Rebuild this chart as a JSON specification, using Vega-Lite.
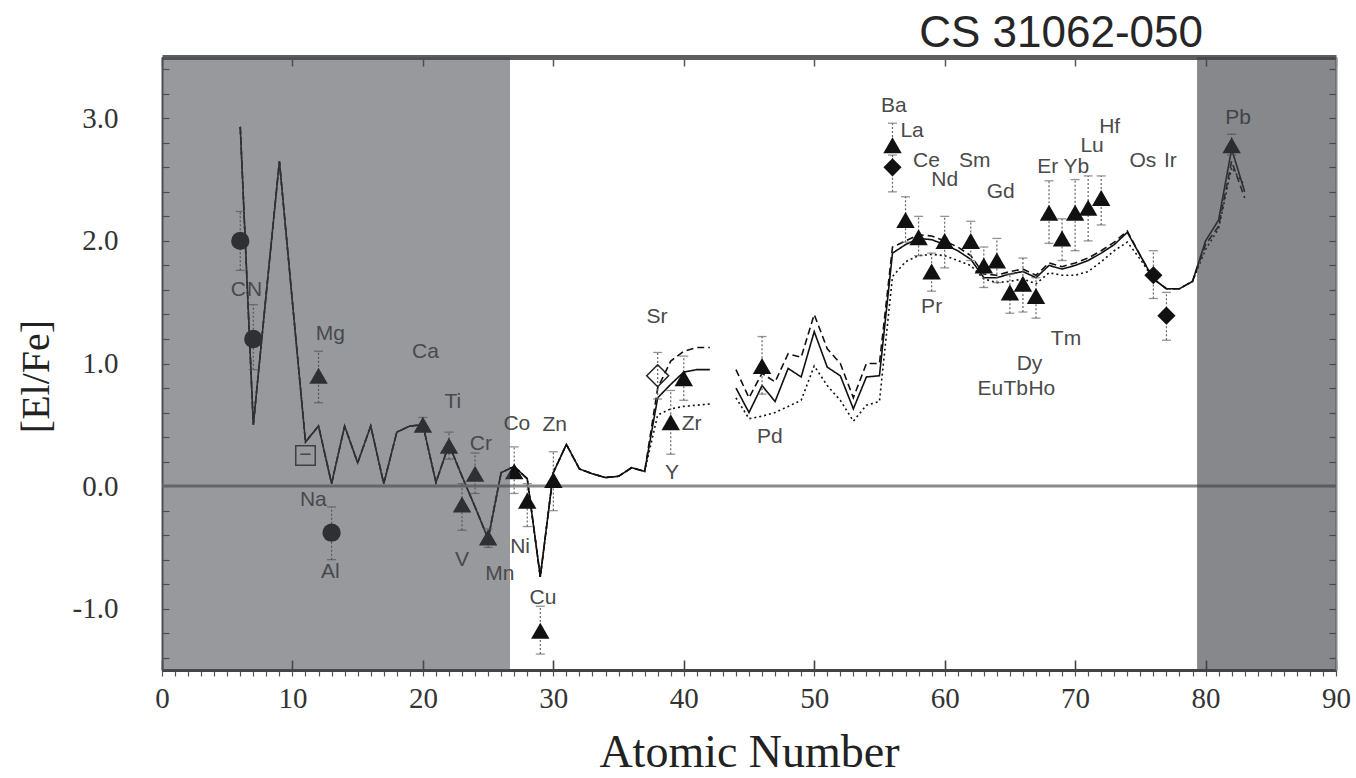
{
  "$schema": "https://vega.github.io/schema/vega-lite/v6.json",
  "width": 1174,
  "height": 613,
  "autosize": {"type": "none"},
  "padding": {"left": 162, "top": 57, "right": 20, "bottom": 108},
  "background": "white",
  "config": {"view": {"stroke": null}},
  "title": {"text": "CS 31062-050", "anchor": "end", "frame": "group", "dx": -133, "dy": 44, "offset": 8, "fontSize": 44, "font": "Liberation Sans", "fontWeight": "normal", "color": "#262626", "baseline": "alphabetic"},
  "datasets": {
    "pts": [
      {"el": "C", "Z": 6, "v": 2.0, "lo": 1.76, "hi": 2.24, "sym": "circle"},
      {"el": "N", "Z": 7, "v": 1.2, "lo": 0.95, "hi": 1.48, "sym": "circle"},
      {"el": "Na", "Z": 11, "v": 0.25, "lo": null, "hi": null, "sym": "square"},
      {"el": "Mg", "Z": 12, "v": 0.9, "lo": 0.68, "hi": 1.1, "sym": "triangle"},
      {"el": "Al", "Z": 13, "v": -0.38, "lo": -0.6, "hi": -0.17, "sym": "circle"},
      {"el": "Ca", "Z": 20, "v": 0.5, "lo": 0.45, "hi": 0.56, "sym": "triangle"},
      {"el": "Ti", "Z": 22, "v": 0.33, "lo": 0.22, "hi": 0.44, "sym": "triangle"},
      {"el": "V", "Z": 23, "v": -0.15, "lo": -0.36, "hi": 0.02, "sym": "triangle"},
      {"el": "Cr", "Z": 24, "v": 0.1, "lo": -0.06, "hi": 0.27, "sym": "triangle"},
      {"el": "Mn", "Z": 25, "v": -0.42, "lo": -0.5, "hi": -0.35, "sym": "triangle"},
      {"el": "Co", "Z": 27, "v": 0.12, "lo": -0.06, "hi": 0.32, "sym": "triangle"},
      {"el": "Ni", "Z": 28, "v": -0.12, "lo": -0.33, "hi": 0.02, "sym": "triangle"},
      {"el": "Cu", "Z": 29, "v": -1.18, "lo": -1.37, "hi": -0.98, "sym": "triangle"},
      {"el": "Zn", "Z": 30, "v": 0.05, "lo": -0.2, "hi": 0.28, "sym": "triangle"},
      {"el": "Sr", "Z": 38, "v": 0.9, "lo": 0.71, "hi": 1.09, "sym": "odiamond"},
      {"el": "Y", "Z": 39, "v": 0.52, "lo": 0.26, "hi": 0.78, "sym": "triangle"},
      {"el": "Zr", "Z": 40, "v": 0.88, "lo": 0.7, "hi": 1.06, "sym": "triangle"},
      {"el": "Pd", "Z": 46, "v": 0.98, "lo": 0.75, "hi": 1.22, "sym": "triangle"},
      {"el": "Ba", "Z": 56, "v": 2.78, "lo": 2.62, "hi": 2.96, "sym": "triangle"},
      {"el": "Ba", "Z": 56, "v": 2.6, "lo": 2.4, "hi": 2.7, "sym": "diamond"},
      {"el": "La", "Z": 57, "v": 2.17, "lo": 1.99, "hi": 2.36, "sym": "triangle"},
      {"el": "Ce", "Z": 58, "v": 2.03, "lo": 1.88, "hi": 2.2, "sym": "triangle"},
      {"el": "Pr", "Z": 59, "v": 1.75, "lo": 1.59, "hi": 1.9, "sym": "triangle"},
      {"el": "Nd", "Z": 60, "v": 2.0, "lo": 1.78, "hi": 2.2, "sym": "triangle"},
      {"el": "Sm", "Z": 62, "v": 2.0, "lo": 1.84, "hi": 2.16, "sym": "triangle"},
      {"el": "Eu", "Z": 63, "v": 1.8, "lo": 1.62, "hi": 1.95, "sym": "triangle"},
      {"el": "Gd", "Z": 64, "v": 1.84, "lo": 1.66, "hi": 2.02, "sym": "triangle"},
      {"el": "Tb", "Z": 65, "v": 1.58, "lo": 1.41, "hi": 1.73, "sym": "triangle"},
      {"el": "Dy", "Z": 66, "v": 1.65, "lo": 1.42, "hi": 1.86, "sym": "triangle"},
      {"el": "Ho", "Z": 67, "v": 1.55, "lo": 1.37, "hi": 1.7, "sym": "triangle"},
      {"el": "Er", "Z": 68, "v": 2.23, "lo": 1.98, "hi": 2.49, "sym": "triangle"},
      {"el": "Tm", "Z": 69, "v": 2.02, "lo": 1.84, "hi": 2.18, "sym": "triangle"},
      {"el": "Yb", "Z": 70, "v": 2.23, "lo": 1.92, "hi": 2.5, "sym": "triangle"},
      {"el": "Lu", "Z": 71, "v": 2.27, "lo": 2.0, "hi": 2.53, "sym": "triangle"},
      {"el": "Hf", "Z": 72, "v": 2.35, "lo": 2.13, "hi": 2.53, "sym": "triangle"},
      {"el": "Os", "Z": 76, "v": 1.72, "lo": 1.53, "hi": 1.92, "sym": "diamond"},
      {"el": "Ir", "Z": 77, "v": 1.39, "lo": 1.19, "hi": 1.58, "sym": "diamond"},
      {"el": "Pb", "Z": 82, "v": 2.78, "lo": 2.7, "hi": 2.87, "sym": "triangle"}
    ],
    "lbl": [
      {"t": "C", "Z": 5.85, "v": 1.6}, {"t": "N", "Z": 7.1, "v": 1.6},
      {"t": "Mg", "Z": 12.9, "v": 1.24}, {"t": "Ca", "Z": 20.2, "v": 1.09},
      {"t": "Ti", "Z": 22.3, "v": 0.69}, {"t": "Cr", "Z": 24.45, "v": 0.34},
      {"t": "Co", "Z": 27.2, "v": 0.51}, {"t": "Zn", "Z": 30.1, "v": 0.5},
      {"t": "Na", "Z": 11.6, "v": -0.11}, {"t": "Al", "Z": 12.9, "v": -0.7},
      {"t": "V", "Z": 23.0, "v": -0.6}, {"t": "Mn", "Z": 25.9, "v": -0.72},
      {"t": "Ni", "Z": 27.45, "v": -0.5}, {"t": "Cu", "Z": 29.2, "v": -0.91},
      {"t": "Sr", "Z": 37.95, "v": 1.38}, {"t": "Zr", "Z": 40.6, "v": 0.51},
      {"t": "Y", "Z": 39.1, "v": 0.11}, {"t": "Pd", "Z": 46.6, "v": 0.4},
      {"t": "Ba", "Z": 56.1, "v": 3.1}, {"t": "La", "Z": 57.5, "v": 2.9},
      {"t": "Ce", "Z": 58.6, "v": 2.65}, {"t": "Nd", "Z": 60.0, "v": 2.5},
      {"t": "Sm", "Z": 62.3, "v": 2.65}, {"t": "Gd", "Z": 64.3, "v": 2.4},
      {"t": "Er", "Z": 67.9, "v": 2.6}, {"t": "Yb", "Z": 70.1, "v": 2.6},
      {"t": "Lu", "Z": 71.3, "v": 2.77}, {"t": "Hf", "Z": 72.65, "v": 2.93},
      {"t": "Os", "Z": 75.2, "v": 2.65}, {"t": "Ir", "Z": 77.3, "v": 2.65},
      {"t": "Pr", "Z": 59.0, "v": 1.46}, {"t": "Tm", "Z": 69.3, "v": 1.2},
      {"t": "Dy", "Z": 66.5, "v": 1.0}, {"t": "Eu", "Z": 63.5, "v": 0.79},
      {"t": "Tb", "Z": 65.45, "v": 0.79}, {"t": "Ho", "Z": 67.45, "v": 0.79},
      {"t": "Pb", "Z": 82.5, "v": 3.0}, {"t": "\u2212", "Z": 11, "v": 0.25}
    ],
    "model": [
      {"Z": 6, "seg": "a", "solid": 2.93, "dashed": 2.93, "dotted": 2.93},
      {"Z": 7, "seg": "a", "solid": 0.5, "dashed": 0.5, "dotted": 0.5},
      {"Z": 8, "seg": "a", "solid": 1.58, "dashed": 1.58, "dotted": 1.58},
      {"Z": 9, "seg": "a", "solid": 2.65, "dashed": 2.65, "dotted": 2.65},
      {"Z": 10, "seg": "a", "solid": 1.5, "dashed": 1.5, "dotted": 1.5},
      {"Z": 11, "seg": "a", "solid": 0.36, "dashed": 0.36, "dotted": 0.36},
      {"Z": 12, "seg": "a", "solid": 0.49, "dashed": 0.49, "dotted": 0.49},
      {"Z": 13, "seg": "a", "solid": 0.02, "dashed": 0.02, "dotted": 0.02},
      {"Z": 14, "seg": "a", "solid": 0.49, "dashed": 0.49, "dotted": 0.49},
      {"Z": 15, "seg": "a", "solid": 0.19, "dashed": 0.19, "dotted": 0.19},
      {"Z": 16, "seg": "a", "solid": 0.49, "dashed": 0.49, "dotted": 0.49},
      {"Z": 17, "seg": "a", "solid": 0.02, "dashed": 0.02, "dotted": 0.02},
      {"Z": 18, "seg": "a", "solid": 0.44, "dashed": 0.44, "dotted": 0.44},
      {"Z": 19, "seg": "a", "solid": 0.49, "dashed": 0.49, "dotted": 0.49},
      {"Z": 20, "seg": "a", "solid": 0.5, "dashed": 0.5, "dotted": 0.5},
      {"Z": 21, "seg": "a", "solid": 0.03, "dashed": 0.03, "dotted": 0.03},
      {"Z": 22, "seg": "a", "solid": 0.34, "dashed": 0.34, "dotted": 0.34},
      {"Z": 23, "seg": "a", "solid": 0.08, "dashed": 0.08, "dotted": 0.08},
      {"Z": 24, "seg": "a", "solid": -0.17, "dashed": -0.17, "dotted": -0.17},
      {"Z": 25, "seg": "a", "solid": -0.43, "dashed": -0.43, "dotted": -0.43},
      {"Z": 26, "seg": "a", "solid": 0.11, "dashed": 0.11, "dotted": 0.11},
      {"Z": 27, "seg": "a", "solid": 0.16, "dashed": 0.16, "dotted": 0.16},
      {"Z": 28, "seg": "a", "solid": 0.06, "dashed": 0.06, "dotted": 0.06},
      {"Z": 29, "seg": "a", "solid": -0.74, "dashed": -0.74, "dotted": -0.74},
      {"Z": 30, "seg": "a", "solid": 0.11, "dashed": 0.11, "dotted": 0.11},
      {"Z": 31, "seg": "a", "solid": 0.34, "dashed": 0.34, "dotted": 0.34},
      {"Z": 32, "seg": "a", "solid": 0.14, "dashed": 0.14, "dotted": 0.14},
      {"Z": 33, "seg": "a", "solid": 0.1, "dashed": 0.1, "dotted": 0.1},
      {"Z": 34, "seg": "a", "solid": 0.07, "dashed": 0.07, "dotted": 0.07},
      {"Z": 35, "seg": "a", "solid": 0.08, "dashed": 0.08, "dotted": 0.08},
      {"Z": 36, "seg": "a", "solid": 0.15, "dashed": 0.15, "dotted": 0.15},
      {"Z": 37, "seg": "a", "solid": 0.12, "dashed": 0.12, "dotted": 0.12},
      {"Z": 38, "seg": "a", "solid": 0.72, "dashed": 0.8, "dotted": 0.58},
      {"Z": 39, "seg": "a", "solid": 0.83, "dashed": 1.02, "dotted": 0.63},
      {"Z": 40, "seg": "a", "solid": 0.93, "dashed": 1.1, "dotted": 0.65},
      {"Z": 41, "seg": "a", "solid": 0.95, "dashed": 1.13, "dotted": 0.66},
      {"Z": 42, "seg": "a", "solid": 0.95, "dashed": 1.13, "dotted": 0.67},
      {"Z": 44, "seg": "c", "solid": 0.8, "dashed": 0.95, "dotted": 0.72},
      {"Z": 45, "seg": "c", "solid": 0.6, "dashed": 0.72, "dotted": 0.55},
      {"Z": 46, "seg": "c", "solid": 0.82, "dashed": 0.92, "dotted": 0.57},
      {"Z": 47, "seg": "c", "solid": 0.69, "dashed": 0.85, "dotted": 0.6},
      {"Z": 48, "seg": "c", "solid": 0.96, "dashed": 1.08, "dotted": 0.65},
      {"Z": 49, "seg": "c", "solid": 0.89, "dashed": 1.05, "dotted": 0.7},
      {"Z": 50, "seg": "c", "solid": 1.26, "dashed": 1.4, "dotted": 0.98},
      {"Z": 51, "seg": "c", "solid": 0.97, "dashed": 1.12, "dotted": 0.82},
      {"Z": 52, "seg": "c", "solid": 0.9, "dashed": 1.0, "dotted": 0.7},
      {"Z": 53, "seg": "c", "solid": 0.63, "dashed": 0.72, "dotted": 0.53},
      {"Z": 54, "seg": "c", "solid": 0.89, "dashed": 1.0, "dotted": 0.66},
      {"Z": 55, "seg": "c", "solid": 0.9, "dashed": 1.0, "dotted": 0.69},
      {"Z": 56, "seg": "c", "solid": 1.9, "dashed": 1.95, "dotted": 1.71},
      {"Z": 57, "seg": "c", "solid": 1.97, "dashed": 2.0, "dotted": 1.83},
      {"Z": 58, "seg": "c", "solid": 2.02, "dashed": 2.05, "dotted": 1.88},
      {"Z": 59, "seg": "c", "solid": 2.01, "dashed": 2.04, "dotted": 1.89},
      {"Z": 60, "seg": "c", "solid": 1.97, "dashed": 2.0, "dotted": 1.88},
      {"Z": 61, "seg": "c", "solid": 1.92, "dashed": 1.95, "dotted": 1.84},
      {"Z": 62, "seg": "c", "solid": 1.85, "dashed": 1.88, "dotted": 1.8},
      {"Z": 63, "seg": "c", "solid": 1.7, "dashed": 1.73, "dotted": 1.69},
      {"Z": 64, "seg": "c", "solid": 1.7, "dashed": 1.72, "dotted": 1.66},
      {"Z": 65, "seg": "c", "solid": 1.73, "dashed": 1.75, "dotted": 1.67},
      {"Z": 66, "seg": "c", "solid": 1.75, "dashed": 1.77, "dotted": 1.69},
      {"Z": 67, "seg": "c", "solid": 1.7, "dashed": 1.72, "dotted": 1.65},
      {"Z": 68, "seg": "c", "solid": 1.8, "dashed": 1.82, "dotted": 1.74},
      {"Z": 69, "seg": "c", "solid": 1.77, "dashed": 1.79, "dotted": 1.72},
      {"Z": 70, "seg": "c", "solid": 1.8, "dashed": 1.82, "dotted": 1.72},
      {"Z": 71, "seg": "c", "solid": 1.84, "dashed": 1.86, "dotted": 1.75},
      {"Z": 72, "seg": "c", "solid": 1.9, "dashed": 1.92, "dotted": 1.83},
      {"Z": 73, "seg": "c", "solid": 1.97, "dashed": 1.99, "dotted": 1.92},
      {"Z": 74, "seg": "c", "solid": 2.07, "dashed": 2.08, "dotted": 1.99},
      {"Z": 75, "seg": "c", "solid": 1.88, "dashed": 1.88, "dotted": 1.85},
      {"Z": 76, "seg": "c", "solid": 1.69, "dashed": 1.69, "dotted": 1.69},
      {"Z": 77, "seg": "c", "solid": 1.61, "dashed": 1.61, "dotted": 1.61},
      {"Z": 78, "seg": "c", "solid": 1.61, "dashed": 1.61, "dotted": 1.61},
      {"Z": 79, "seg": "c", "solid": 1.67, "dashed": 1.67, "dotted": 1.67},
      {"Z": 80, "seg": "c", "solid": 2.0, "dashed": 1.97, "dotted": 1.93},
      {"Z": 81, "seg": "c", "solid": 2.17, "dashed": 2.12, "dotted": 2.1},
      {"Z": 82, "seg": "c", "solid": 2.75, "dashed": 2.65, "dotted": 2.6},
      {"Z": 83, "seg": "c", "solid": 2.4, "dashed": 2.35, "dotted": 2.45}
    ],
    "bands": [
      {"x0": 0, "x1": 26.68, "zone": "left"},
      {"x0": 79.35, "x1": 90, "zone": "right"}
    ]
  },
  "layer": [
    {
      "data": {"name": "model"},
      "transform": [{"fold": ["solid", "dashed", "dotted"], "as": ["mdl", "val"]}],
      "mark": {"type": "line", "color": "#111", "strokeWidth": 1.6},
      "encoding": {
        "x": {"field": "Z", "type": "quantitative", "scale": {"domain": [0, 90], "nice": false, "zero": false},
          "axis": {"orient": "bottom", "title": "Atomic Number", "values": [0,1,2,3,4,5,6,7,8,9,10,11,12,13,14,15,16,17,18,19,20,21,22,23,24,25,26,27,28,29,30,31,32,33,34,35,36,37,38,39,40,41,42,43,44,45,46,47,48,49,50,51,52,53,54,55,56,57,58,59,60,61,62,63,64,65,66,67,68,69,70,71,72,73,74,75,76,77,78,79,80,81,82,83,84,85,86,87,88,89,90],
            "labelExpr": "datum.value % 10 === 0 ? datum.label : ''", "labelOverlap": false, "labelBound": false, "labelFlush": false,
            "tickSize": 6, "tickColor": "#555", "tickWidth": 1.2,
            "domainColor": "#444", "domainWidth": 3,
            "labelFont": "Liberation Serif", "labelFontSize": 29, "labelColor": "#333", "labelPadding": 8,
            "titleFont": "Liberation Serif", "titleFontSize": 46, "titleFontWeight": "normal", "titleColor": "#222", "titlePadding": 17, "grid": false}},
        "y": {"field": "val", "type": "quantitative", "scale": {"domain": [-1.5, 3.5], "nice": false, "zero": false},
          "axis": {"orient": "left", "title": "[El/Fe]", "values": [-1.4,-1.2,-1,-0.8,-0.6,-0.4,-0.2,0,0.2,0.4,0.6,0.8,1,1.2,1.4,1.6,1.8,2,2.2,2.4,2.6,2.8,3,3.2,3.4],
            "labelExpr": "datum.value === round(datum.value) ? replace(format(datum.value, '.1f'), '\u2212', '-') : ''", "labelOverlap": false, "labelBound": false, "labelFlush": false,
            "tickSize": -7, "tickColor": "#555", "tickWidth": 1.2,
            "domainColor": "#555", "domainWidth": 2,
            "labelFont": "Liberation Serif", "labelFontSize": 29, "labelColor": "#333", "labelPadding": 51,
            "titleFont": "Liberation Serif", "titleFontSize": 40, "titleFontWeight": "normal", "titleColor": "#222", "titlePadding": 16, "titleY": 319, "grid": false}},
        "strokeDash": {"field": "mdl", "type": "nominal", "scale": {"domain": ["solid", "dashed", "dotted"], "range": [[1, 0], [7, 4], [2, 3]]}, "legend": null},
        "detail": {"field": "seg"}
      }
    },
    {
      "data": {"values": [{}]},
      "mark": {"type": "rule", "color": "#8a8a8a", "strokeWidth": 3},
      "encoding": {"y": {"datum": 0, "type": "quantitative", "axis": null}}
    },
    {
      "data": {"name": "pts"},
      "transform": [{"filter": "datum.lo != null"}],
      "mark": {"type": "rule", "color": "#666", "strokeWidth": 1.2, "strokeDash": [2, 2]},
      "encoding": {
        "x": {"field": "Z", "type": "quantitative", "axis": null},
        "y": {"field": "lo", "type": "quantitative", "axis": null},
        "y2": {"field": "hi"}
      }
    },
    {
      "data": {"name": "pts"},
      "transform": [{"filter": "datum.lo != null"}],
      "mark": {"type": "tick", "orient": "horizontal", "color": "#666", "size": 9, "thickness": 1.3},
      "encoding": {
        "x": {"field": "Z", "type": "quantitative", "axis": null},
        "y": {"field": "lo", "type": "quantitative", "axis": null}
      }
    },
    {
      "data": {"name": "pts"},
      "transform": [{"filter": "datum.lo != null"}],
      "mark": {"type": "tick", "orient": "horizontal", "color": "#666", "size": 9, "thickness": 1.3},
      "encoding": {
        "x": {"field": "Z", "type": "quantitative", "axis": null},
        "y": {"field": "hi", "type": "quantitative", "axis": null}
      }
    },
    {
      "data": {"name": "pts"},
      "transform": [{"filter": "datum.sym === 'triangle' || datum.sym === 'circle' || datum.sym === 'diamond'"}],
      "mark": {"type": "point", "filled": true, "color": "#111", "opacity": 1},
      "encoding": {
        "x": {"field": "Z", "type": "quantitative", "axis": null},
        "y": {"field": "v", "type": "quantitative", "axis": null},
        "shape": {"field": "sym", "type": "nominal", "scale": {"domain": ["triangle", "circle", "diamond"], "range": ["triangle-up", "circle", "diamond"]}, "legend": null},
        "size": {"field": "sym", "type": "nominal", "scale": {"domain": ["triangle", "circle", "diamond"], "range": [340, 330, 440]}, "legend": null}
      }
    },
    {
      "data": {"name": "pts"},
      "transform": [{"filter": "datum.sym === 'odiamond'"}],
      "mark": {"type": "point", "shape": "diamond", "size": 480, "filled": false, "color": "#222", "strokeWidth": 1.5, "opacity": 1},
      "encoding": {
        "x": {"field": "Z", "type": "quantitative", "axis": null},
        "y": {"field": "v", "type": "quantitative", "axis": null}
      }
    },
    {
      "data": {"name": "pts"},
      "transform": [{"filter": "datum.sym === 'square'"}],
      "mark": {"type": "point", "shape": "square", "size": 380, "filled": false, "color": "#333", "strokeWidth": 1.5, "opacity": 1},
      "encoding": {
        "x": {"field": "Z", "type": "quantitative", "axis": null},
        "y": {"field": "v", "type": "quantitative", "axis": null}
      }
    },
    {
      "data": {"name": "lbl"},
      "mark": {"type": "text", "font": "Liberation Sans", "fontSize": 21, "color": "#4a4a4a", "align": "center", "baseline": "middle"},
      "encoding": {
        "x": {"field": "Z", "type": "quantitative", "axis": null},
        "y": {"field": "v", "type": "quantitative", "axis": null},
        "text": {"field": "t"}
      }
    },
    {
      "data": {"name": "bands"},
      "mark": {"type": "rect"},
      "encoding": {
        "x": {"field": "x0", "type": "quantitative", "axis": null},
        "x2": {"field": "x1"},
        "fill": {"field": "zone", "type": "nominal", "scale": {"domain": ["left", "right"], "range": ["#454950", "#3c3f45"]}, "legend": null},
        "opacity": {"field": "zone", "type": "nominal", "scale": {"domain": ["left", "right"], "range": [0.56, 0.62]}, "legend": null}
      }
    },
    {
      "data": {"name": "pts"},
      "mark": {"type": "point", "opacity": 0},
      "encoding": {
        "x": {"field": "Z", "type": "quantitative",
          "axis": {"orient": "top", "title": null, "values": [0, 10, 20, 30, 40, 50, 60, 70, 80, 90], "labels": false, "tickSize": -9, "tickColor": "#555", "tickWidth": 1.5, "domainColor": "#5e5e5e", "domainWidth": 5, "grid": false}},
        "y": {"field": "v", "type": "quantitative",
          "axis": {"orient": "right", "title": null, "values": [-1.4,-1.2,-1,-0.8,-0.6,-0.4,-0.2,0,0.2,0.4,0.6,0.8,1,1.2,1.4,1.6,1.8,2,2.2,2.4,2.6,2.8,3,3.2,3.4], "labels": false, "tickSize": -7, "tickColor": "#555", "tickWidth": 1.2, "domainColor": "#8a8a8a", "domainWidth": 2, "grid": false}}
      }
    },
    {
      "data": {"name": "pts"},
      "mark": {"type": "point", "opacity": 0},
      "encoding": {
        "x": {"field": "Z", "type": "quantitative",
          "axis": {"orient": "bottom", "title": null, "values": [0, 10, 20, 30, 40, 50, 60, 70, 80, 90], "labels": false, "tickSize": -10, "tickColor": "#444", "tickWidth": 1.6, "domain": false, "grid": false}},
        "y": {"field": "v", "type": "quantitative", "axis": null}
      }
    }
  ],
  "resolve": {"axis": {"x": "independent", "y": "independent"}}
}
